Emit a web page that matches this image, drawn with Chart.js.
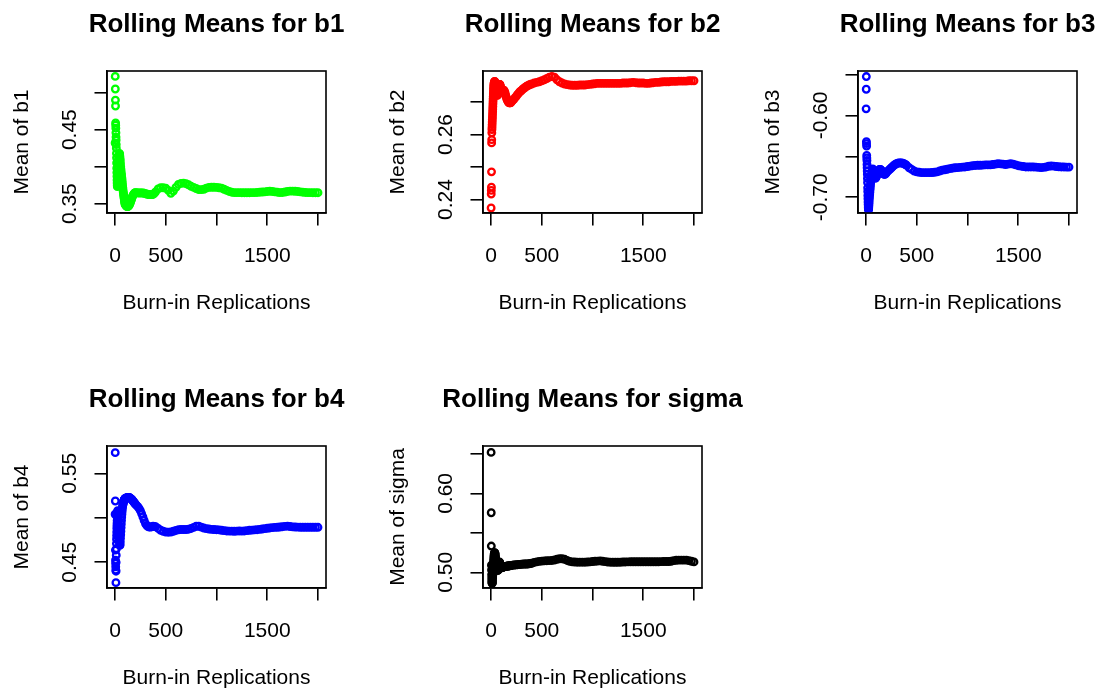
<!DOCTYPE html>
<html><head><meta charset="utf-8">
<script src="https://cdn.jsdelivr.net/npm/chart.js@4.4.1/dist/chart.umd.min.js"></script>
<style>
html,body{margin:0;padding:0;background:#fff;width:1104px;height:688px;overflow:hidden;position:relative;}
canvas{position:absolute;}
</style></head><body>
<script>
// ---------- data ----------
const replications = [1,2,3,4,5,6,7,8,9,10,
 11,12,13,14,15,16,17,18,19,20,
 21,22,23,24,25,26,27,28,29,30,
 32,34,36,38,40,42,44,46,48,50,
 52,54,56,58,60,62,64,66,68,70,
 72,74,76,78,80,82,84,86,88,90,
 92,94,96,98,100,
 105,110,115,120,125,130,135,140,145,150,
 155,160,165,170,175,180,185,190,195,200,
 212,225,237,250,262,275,287,300,312,325,337,350,362,375,387,400,
 425,450,475,500,525,550,575,600,625,650,
 675,700,725,750,775,800,825,850,875,900,
 925,950,975,1000,1025,1050,1075,1100,1125,1150,
 1175,1200,1225,1250,1275,1300,1325,1350,1375,1400,
 1425,1450,1475,1500,1525,1550,1575,1600,1625,1650,
 1675,1700,1725,1750,1775,1800,1825,1850,1875,1900,
 1925,1950,1975,2000];

const b1Means = [.432,.522,.505,.490,.482,.459,.456,.452,.446,.440,
 .436,.430,.425,.418,.412,.405,.398,.392,.387,.382,
 .378,.375,.373,.376,.380,.385,.389,.393,.397,.400,
 .404,.407,.410,.412,.414,.416,.418,.417,.414,.411,
 .408,.404,.400,.397,.394,.391,.389,.386,.384,.381,
 .378,.375,.372,.370,.367,.365,.363,.361,.359,.357,
 .355,.353,.352,.350,.349,
 .348,.347,.3465,.346,.346,.3465,.347,.348,.3495,.351,
 .353,.355,.357,.359,.361,.362,.363,.364,.3645,.365,
 .3648,.3645,.3645,.3645,.3645,.3645,.364,.3635,.363,.3625,.3623,.3622,.3623,.3625,.364,.366,
 .370,.3715,.3715,.371,.368,.364,.367,.372,.376,.3775,
 .3778,.377,.3755,.3735,.372,.3705,.369,.369,.3695,.371,
 .372,.3722,.3722,.372,.3715,.371,.3695,.368,.3665,.3655,
 .365,.365,.365,.3648,.3648,.3648,.3648,.365,.365,.3652,
 .3655,.3658,.366,.3665,.3668,.3665,.366,.3655,.365,.3652,
 .3658,.3665,.367,.367,.3668,.3665,.366,.3655,.3652,.365,
 .365,.3648,.3648,.3648];

const b2Means = [.2374,.2417,.2428,.2438,.2485,.2574,.2584,.2605,.2615,.2622,
 .2630,.2638,.2646,.2654,.2662,.2670,.2678,.2686,.2694,.2702,
 .2710,.2717,.2724,.2730,.2736,.2741,.2746,.2750,.2754,.2757,
 .2760,.2762,.2763,.2762,.2760,.2757,.2753,.2749,.2745,.2741,
 .2737,.2733,.2729,.2725,.2722,.2720,.2721,.2724,.2728,.2732,
 .2736,.2740,.2744,.2748,.2751,.2753,.2754,.2754,.2753,.2751,
 .2748,.2745,.2742,.2739,.2736,
 .2732,.2730,.2731,.2734,.2736,.2735,.2731,.2726,.2720,.2715,
 .2710,.2706,.2703,.2700,.2698,.2697,.2697,.2697,.2698,.2700,
 .2704,.2708,.2713,.2718,.2723,.2728,.2732,.2735,.2739,.2742,.2745,.2748,.2750,.2752,.2754,.2755,
 .2758,.276,.2762,.2765,.2768,.2772,.2776,.2778,.2776,.2768,
 .2762,.2758,.2755,.2753,.2752,.2751,.2751,.2751,.2752,.2752,
 .2752,.2753,.2754,.2755,.2756,.2757,.2757,.2757,.2757,.2757,
 .2757,.2757,.2757,.2757,.2757,.2758,.2758,.2758,.2759,.276,
 .2759,.2758,.2758,.2758,.2757,.2757,.2758,.2759,.276,.276,
 .2761,.2762,.2762,.2762,.2763,.2763,.2763,.2764,.2764,.2764,
 .2764,.2765,.2765,.2765];

const b3Means = [-.592,-.568,-.5525,-.632,-.6345,-.6375,-.649,-.652,-.655,-.660,
 -.664,-.668,-.672,-.677,-.682,-.6885,-.693,-.698,-.702,-.706,
 -.709,-.712,-.714,-.715,-.715,-.714,-.712,-.710,-.708,-.706,
 -.703,-.700,-.697,-.694,-.691,-.688,-.685,-.682,-.679,-.677,
 -.675,-.673,-.671,-.669,-.668,-.667,-.666,-.6655,-.666,-.667,
 -.668,-.669,-.670,-.671,-.672,-.673,-.674,-.675,-.676,-.676,
 -.6765,-.6765,-.676,-.6755,-.675,
 -.674,-.672,-.6705,-.669,-.6675,-.6665,-.666,-.666,-.6665,-.667,
 -.668,-.669,-.670,-.671,-.6715,-.672,-.672,-.6715,-.671,-.670,
 -.6685,-.667,-.6655,-.664,-.6625,-.661,-.660,-.659,-.6585,-.658,-.658,-.6582,-.6585,-.659,-.660,-.661,
 -.664,-.666,-.668,-.669,-.6695,-.67,-.67,-.67,-.67,-.6698,
 -.6695,-.669,-.668,-.667,-.6665,-.6658,-.665,-.6645,-.664,-.6638,
 -.6635,-.6632,-.663,-.6625,-.662,-.6615,-.6612,-.661,-.661,-.6608,
 -.6605,-.6605,-.6605,-.66,-.6595,-.659,-.6592,-.6595,-.66,-.6595,
 -.659,-.6595,-.6605,-.6615,-.662,-.6625,-.663,-.663,-.663,-.663,
 -.6632,-.6635,-.6638,-.6635,-.663,-.6622,-.6618,-.662,-.6625,-.6628,
 -.663,-.663,-.6632,-.6632];

const b4Means = [.504,.5732,.5189,.4637,.4524,.4487,.4449,.4412,.4271,.440,
 .450,.458,.465,.471,.476,.480,.484,.488,.491,.494,
 .497,.500,.503,.505,.507,.508,.506,.503,.500,.497,
 .493,.489,.485,.481,.478,.475,.472,.470,.469,.470,
 .473,.477,.481,.485,.489,.493,.497,.501,.504,.507,
 .510,.512,.514,.515,.516,.517,.518,.5187,.5193,.520,
 .5205,.521,.5213,.5215,.5217,
 .522,.5222,.5225,.5227,.5228,.523,.523,.5228,.5225,.522,
 .5216,.5212,.5206,.520,.5193,.5185,.5178,.517,.5162,.5155,
 .514,.5125,.5105,.508,.5048,.501,.497,.4935,.4915,.490,.4897,.4895,.490,.4905,.4903,.490,
 .488,.486,.4848,.484,.4838,.484,.4848,.4858,.4865,.4868,
 .4868,.4868,.4872,.488,.4892,.4905,.4905,.4895,.4885,.4878,
 .4874,.487,.4868,.4866,.4864,.486,.4856,.4852,.485,.485,
 .4849,.485,.4852,.485,.4852,.4856,.486,.4862,.4864,.4866,
 .487,.4874,.4878,.4882,.4886,.489,.4892,.4894,.4896,.490,
 .4904,.4906,.4902,.4898,.4896,.4895,.4894,.4894,.4894,.4894,
 .4894,.4893,.4893,.4893];

const sigmaMeans = [.652,.5755,.5333,.509,.503,.497,.493,.490,.488,.4865,
 .486,.4865,.488,.490,.492,.494,.496,.498,.500,.502,
 .504,.506,.508,.510,.512,.514,.516,.518,.520,.522,
 .5235,.5245,.525,.5245,.5235,.522,.520,.518,.516,.514,
 .512,.510,.508,.5065,.505,.504,.503,.5025,.5025,.503,
 .5035,.505,.507,.509,.511,.5125,.513,.5125,.511,.5095,
 .508,.507,.5062,.5058,.5056,
 .5057,.5059,.5062,.5065,.5068,.507,.5072,.5074,.5075,.5076,
 .5077,.5078,.5079,.508,.5081,.5082,.5083,.5085,.5086,.5088,
 .509,.5092,.5093,.5095,.5096,.5098,.510,.5102,.5104,.5105,.5105,.5105,.5106,.5108,.5111,.5115,
 .5125,.5132,.5138,.5142,.5145,.5147,.5148,.515,.5155,.5165,
 .5172,.5172,.5165,.515,.5138,.5132,.513,.5128,.5128,.5128,
 .5128,.513,.5132,.5136,.514,.5142,.5145,.514,.5135,.513,
 .5128,.5127,.5127,.5127,.5128,.513,.5131,.5132,.5133,.5134,
 .5134,.5134,.5134,.5134,.5134,.5134,.5134,.5134,.5134,.5134,
 .5135,.5136,.5136,.5137,.514,.5148,.5152,.5154,.5154,.5154,
 .5154,.5148,.514,.5132];

const xTicks = [0, 500, 1000, 1500, 2000];
const xTickLabels = ['0', '500', '', '1500', ''];
const b1Ticks = [0.35, 0.40, 0.45, 0.50];
const b1TickLabels = ['0.35', '', '0.45', ''];
const b2Ticks = [0.24, 0.25, 0.26, 0.27];
const b2TickLabels = ['0.24', '', '0.26', ''];
const b3Ticks = [-0.70, -0.65, -0.60, -0.55];
const b3TickLabels = ['-0.70', '', '-0.60', ''];
const b4Ticks = [0.45, 0.50, 0.55];
const b4TickLabels = ['0.45', '', '0.55'];
const sigmaTicks = [0.50, 0.55, 0.60, 0.65];
const sigmaTickLabels = ['0.50', '', '0.60', ''];

// ---------- layout / style ----------
const FONT = '"Liberation Sans", Arial, Helvetica, sans-serif';
const TICK_SIZE = 21, LABEL_SIZE = 21, TITLE_SIZE = 26;
const AREA_LEFT = 107, AREA_TOP = 71, AREA_W = 219, AREA_H = 142;
const CANVAS_W = 2 * AREA_LEFT + AREA_W, CANVAS_H = 318;
const TICK_LEN = 12.5, LINE_W = 1.6;
const POINT_R = 3.3, POINT_LW = 2.3;

const panels = [
  {name: 'b1', values: b1Means, color: '#00ff00', yMin: 0.3374, yMax: 0.5293, ticks: b1Ticks, labels: b1TickLabels, boxLeft: 107, boxTop: 71},
  {name: 'b2', values: b2Means, color: '#ff0000', yMin: 0.23586, yMax: 0.2795, ticks: b2Ticks, labels: b2TickLabels, boxLeft: 483, boxTop: 71},
  {name: 'b3', values: b3Means, color: '#0000ff', yMin: -0.7193, yMax: -0.5457, ticks: b3Ticks, labels: b3TickLabels, boxLeft: 858, boxTop: 71},
  {name: 'b4', values: b4Means, color: '#0000ff', yMin: 0.4211, yMax: 0.5807, ticks: b4Ticks, labels: b4TickLabels, boxLeft: 107, boxTop: 446},
  {name: 'sigma', values: sigmaMeans, color: '#000000', yMin: 0.4801, yMax: 0.6601, ticks: sigmaTicks, labels: sigmaTickLabels, boxLeft: 483, boxTop: 446}
];

const measureCtx = document.createElement('canvas').getContext('2d');
function widestLabel(labels) {
  measureCtx.font = TICK_SIZE + 'px ' + FONT;
  return Math.max(...labels.map(l => measureCtx.measureText(l).width));
}

const boxPlugin = {
  id: 'rbox',
  afterDatasetsDraw(chart) {
    const {ctx, chartArea: a} = chart;
    ctx.save();
    ctx.strokeStyle = '#000';
    ctx.lineWidth = LINE_W;
    ctx.strokeRect(a.left, a.top, a.right - a.left, a.bottom - a.top);
    ctx.restore();
  }
};

function makeChart(p) {
  const canvas = document.createElement('canvas');
  canvas.width = CANVAS_W; canvas.height = CANVAS_H;
  canvas.style.left = (p.boxLeft - AREA_LEFT) + 'px';
  canvas.style.top = (p.boxTop - AREA_TOP) + 'px';
  canvas.style.width = CANVAS_W + 'px';
  canvas.style.height = CANVAS_H + 'px';
  document.body.appendChild(canvas);
  const yPad = 37 - TICK_LEN - widestLabel(p.labels) / 2;
  const titleLH = TITLE_SIZE * 1.2, labelLH = LABEL_SIZE * 1.2, tickLH = TICK_SIZE * 1.2;
  const xH = CANVAS_H - AREA_TOP - AREA_H;
  new Chart(canvas, {
    type: 'scatter',
    data: {
      datasets: [{
        data: replications.map((x, i) => ({x: x, y: p.values[i]})),
        borderColor: p.color, pointBorderColor: p.color,
        backgroundColor: 'rgba(0,0,0,0)', pointBackgroundColor: 'rgba(0,0,0,0)',
        pointRadius: POINT_R, pointHoverRadius: POINT_R, borderWidth: POINT_LW, pointBorderWidth: POINT_LW,
        clip: 0
      }]
    },
    options: {
      responsive: false, animation: false, events: [],
      layout: {padding: 0},
      elements: {point: {radius: POINT_R, borderWidth: POINT_LW}},
      plugins: {
        legend: {display: false},
        tooltip: {enabled: false},
        title: {
          display: true, text: 'Rolling Means for ' + p.name, color: '#000',
          font: {family: FONT, size: TITLE_SIZE, weight: 'bold', lineHeight: 1.2},
          padding: {top: (AREA_TOP - 46) - titleLH / 2, bottom: 46 - titleLH / 2}
        }
      },
      scales: {
        x: {
          type: 'linear', position: 'bottom', min: -79, max: 2079, bounds: 'data',
          afterBuildTicks: s => { s.ticks = xTicks.map(v => ({value: v})); },
          afterFit: s => { s.height = xH; },
          grid: {display: true, drawOnChartArea: false, drawTicks: true, tickLength: TICK_LEN, color: '#000', lineWidth: LINE_W},
          border: {display: true, color: '#000', width: LINE_W},
          ticks: {autoSkip: false, maxRotation: 0, minRotation: 0, padding: 43 - TICK_LEN - tickLH / 2, color: '#000',
                  font: {family: FONT, size: TICK_SIZE, lineHeight: 1.2}, callback: (v, i) => xTickLabels[i]},
          title: {display: true, text: 'Burn-in Replications', color: '#000',
                  font: {family: FONT, size: LABEL_SIZE, lineHeight: 1.2}, padding: {top: 0, bottom: xH - 90 - labelLH / 2}}
        },
        y: {
          type: 'linear', position: 'left', min: p.yMin, max: p.yMax, bounds: 'data',
          afterBuildTicks: s => { s.ticks = p.ticks.map(v => ({value: v})); },
          afterFit: s => { s.width = AREA_LEFT; },
          grid: {display: true, drawOnChartArea: false, drawTicks: true, tickLength: TICK_LEN, color: '#000', lineWidth: LINE_W},
          border: {display: true, color: '#000', width: LINE_W},
          ticks: {autoSkip: false, minRotation: 90, maxRotation: 90, crossAlign: 'center', padding: yPad, color: '#000',
                  font: {family: FONT, size: TICK_SIZE, lineHeight: 1.2}, callback: (v, i) => p.labels[i]},
          title: {display: true, text: 'Mean of ' + p.name, color: '#000',
                  font: {family: FONT, size: LABEL_SIZE, lineHeight: 1.2}, padding: {top: (AREA_LEFT - 85) - labelLH / 2, bottom: 0}}
        },
        yr: {
          type: 'linear', position: 'right', display: true,
          grid: {display: false}, border: {display: false}, ticks: {display: false}, title: {display: false},
          afterFit: s => { s.width = AREA_LEFT; }
        }
      }
    },
    plugins: [boxPlugin]
  });
}

panels.forEach(makeChart);
</script>
</body></html>
